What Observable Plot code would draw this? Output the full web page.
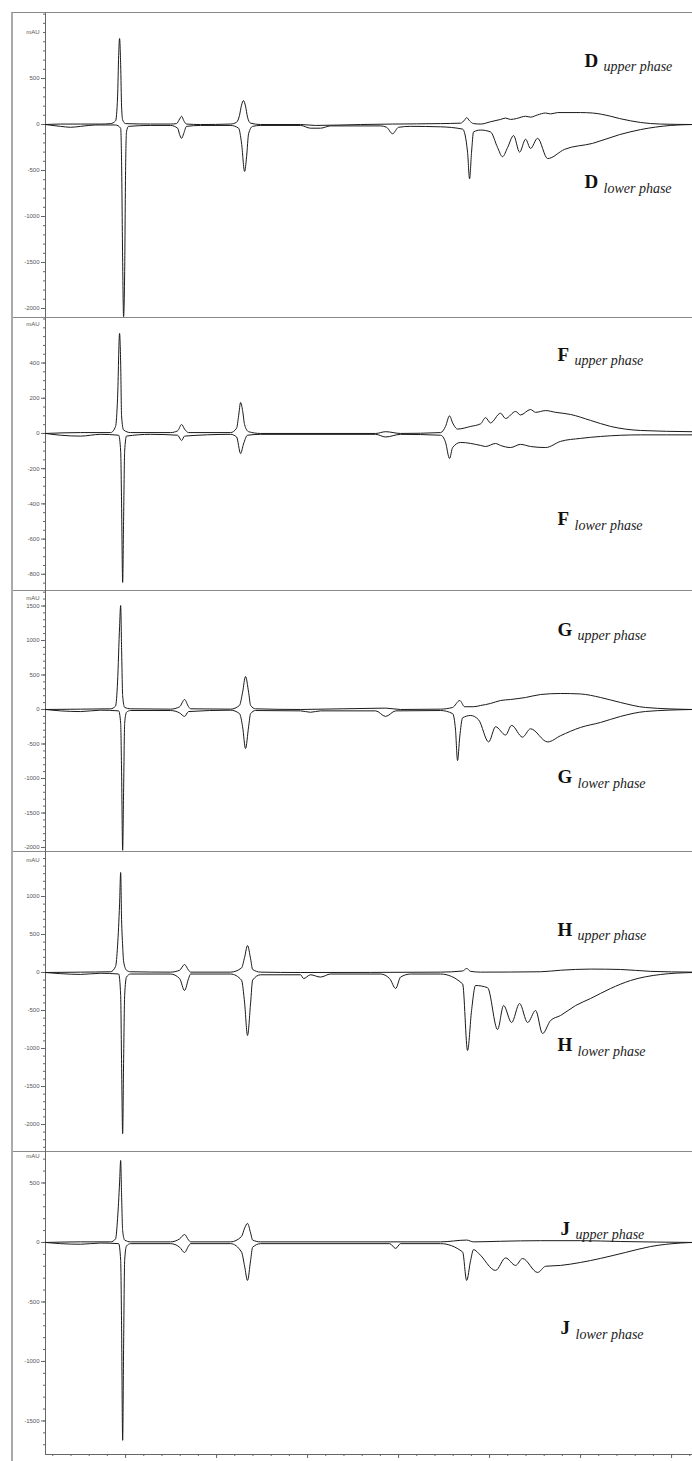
<!DOCTYPE html>
<html><head><meta charset="utf-8">
<script src="https://cdn.jsdelivr.net/npm/d3@7"></script>
<script src="https://cdn.jsdelivr.net/npm/@observablehq/plot@0.6"></script>
<style>
body{margin:0;background:#fff;}
#fig{position:absolute;left:11px;top:12px;width:679px;border-left:2px solid #aaa;border-top:1px solid #888;}
.panel{border-bottom:1px solid #888;}
.panel:last-child{border-bottom:none;}
.panel svg{display:block;overflow:visible;}
</style></head><body><div id="fig"></div>
<script>
// time (min), signal (mAU); lower phase drawn inverted (negative)
const D_upper = [[0.60,0],[1.43,5],[2.53,5],[3.63,5],[4.18,10],[4.45,40],[4.56,300],[4.62,750],[4.67,935],[4.73,650],[4.78,200],[4.84,50],[5.00,10],[6.37,5],[7.47,5],[7.80,10],[7.97,60],[8.08,90],[8.19,45],[8.35,5],[9.12,0],[10.77,5],[11.10,25],[11.26,100],[11.37,210],[11.48,260],[11.59,200],[11.70,80],[11.87,15],[12.42,0],[14.62,0],[15.44,-10],[17.91,0],[19.67,5],[22.31,10],[23.41,15],[23.63,50],[23.74,75],[23.90,40],[24.12,10],[24.51,5],[25.05,30],[25.60,55],[25.88,70],[26.15,55],[26.48,65],[26.98,90],[27.25,80],[27.64,105],[28.08,125],[28.35,115],[28.74,130],[30.00,130],[30.66,125],[31.65,90],[32.14,65],[32.75,40],[33.30,22],[34.40,5],[36.15,0]];
const D_lower = [[0.60,0],[1.43,-20],[1.98,-30],[2.53,-20],[3.35,-5],[4.45,-5],[4.73,-40],[4.78,-400],[4.84,-1500],[4.89,-2090],[4.95,-1600],[5.00,-500],[5.05,-80],[5.16,-20],[6.37,-10],[7.47,-10],[7.86,-40],[7.97,-110],[8.08,-150],[8.19,-100],[8.35,-20],[9.12,-10],[10.77,-10],[11.21,-40],[11.37,-200],[11.54,-510],[11.65,-350],[11.76,-100],[11.98,-20],[12.42,-10],[14.62,-10],[15.16,-40],[15.71,-40],[16.26,-15],[19.01,-15],[19.34,-30],[19.67,-100],[20.00,-30],[20.66,-20],[22.31,-25],[23.52,-50],[23.79,-300],[23.90,-590],[24.01,-300],[24.12,-80],[24.51,-60],[25.05,-80],[25.44,-250],[25.71,-350],[25.99,-250],[26.32,-120],[26.65,-300],[26.98,-160],[27.25,-260],[27.64,-150],[28.19,-370],[29.12,-270],[30.66,-205],[32.14,-110],[33.30,-55],[34.95,-10],[36.15,0]];

const F_upper = [[0.60,0],[2.53,5],[4.18,5],[4.45,40],[4.56,200],[4.67,568],[4.73,400],[4.78,100],[4.89,20],[5.27,5],[7.47,5],[7.86,15],[8.08,51],[8.24,25],[8.46,5],[10.77,5],[11.10,30],[11.21,100],[11.32,176],[11.43,130],[11.54,50],[11.76,10],[12.42,0],[18.74,0],[19.29,10],[20.11,0],[22.31,5],[22.58,40],[22.80,100],[22.97,60],[23.24,25],[23.96,40],[24.51,55],[24.78,90],[25.05,60],[25.60,115],[25.88,85],[26.43,125],[26.70,105],[27.25,136],[27.53,120],[28.08,130],[28.63,120],[29.45,108],[30.55,74],[31.65,40],[33.30,17],[36.15,10]];
const F_lower = [[0.60,0],[1.43,-10],[2.53,-15],[3.63,-5],[4.62,-10],[4.73,-100],[4.78,-400],[4.84,-846],[4.89,-500],[4.95,-100],[5.05,-15],[6.37,-5],[7.86,-10],[8.08,-40],[8.24,-15],[10.77,-5],[11.10,-20],[11.32,-114],[11.48,-60],[11.70,-10],[12.42,-5],[18.74,-5],[19.29,-20],[20.11,-5],[22.31,-10],[22.58,-50],[22.80,-142],[22.97,-80],[23.41,-51],[24.51,-68],[24.78,-74],[25.33,-57],[25.60,-68],[26.15,-80],[26.70,-62],[27.25,-74],[28.08,-80],[28.90,-45],[30.00,-28],[31.10,-17],[33.30,-8],[36.15,-8]];

const G_upper = [[0.60,0],[2.53,5],[4.18,10],[4.45,50],[4.56,400],[4.67,1200],[4.73,1507],[4.78,900],[4.84,200],[4.95,30],[5.27,10],[7.47,5],[7.97,40],[8.24,145],[8.46,40],[8.57,10],[10.77,5],[11.26,60],[11.43,250],[11.59,478],[11.76,250],[11.87,60],[12.14,10],[14.62,0],[19.29,20],[20.11,0],[22.31,5],[22.97,30],[23.36,130],[23.63,40],[24.12,40],[24.51,58],[25.05,87],[25.60,130],[26.15,145],[26.98,174],[27.80,217],[28.90,232],[30.00,225],[31.10,174],[32.20,101],[33.57,29],[36.15,0]];
const G_lower = [[0.60,0],[1.43,-20],[2.53,-30],[3.63,-10],[4.62,-20],[4.73,-200],[4.78,-900],[4.84,-2040],[4.89,-1200],[4.95,-200],[5.05,-40],[5.27,-15],[7.47,-15],[7.97,-50],[8.24,-100],[8.46,-30],[10.77,-10],[11.26,-60],[11.43,-250],[11.59,-565],[11.76,-250],[11.87,-60],[12.14,-15],[14.62,-20],[15.16,-40],[15.71,-20],[18.74,-20],[19.29,-100],[19.84,-20],[22.31,-15],[22.97,-60],[23.13,-300],[23.24,-740],[23.36,-400],[23.52,-120],[23.96,-87],[24.40,-150],[24.95,-470],[25.33,-250],[25.88,-370],[26.21,-230],[26.81,-400],[27.25,-280],[28.19,-470],[28.90,-380],[30.00,-260],[31.10,-188],[32.20,-100],[33.57,-29],[36.15,0]];

const H_upper = [[0.60,0],[2.53,5],[4.18,10],[4.45,80],[4.56,350],[4.67,900],[4.73,1316],[4.78,700],[4.84,350],[4.89,150],[5.05,30],[5.27,10],[7.47,5],[7.97,30],[8.24,105],[8.46,30],[8.57,5],[10.77,5],[11.37,60],[11.54,200],[11.70,355],[11.87,180],[11.98,40],[12.42,5],[14.62,0],[22.31,5],[23.52,20],[23.74,53],[23.96,15],[24.51,5],[27.80,10],[28.90,30],[30.55,45],[32.20,40],[33.85,15],[36.15,5]];
const H_lower = [[0.60,0],[1.43,-15],[2.53,-25],[3.63,-10],[4.62,-20],[4.73,-300],[4.78,-1200],[4.84,-2119],[4.89,-1200],[4.95,-300],[5.05,-60],[5.27,-20],[7.47,-20],[7.97,-80],[8.24,-237],[8.46,-80],[8.57,-20],[10.77,-20],[11.37,-100],[11.54,-400],[11.70,-829],[11.87,-400],[11.98,-100],[12.42,-30],[14.62,-30],[14.78,-80],[15.16,-30],[15.71,-60],[16.26,-20],[19.01,-20],[19.51,-80],[19.84,-210],[20.11,-60],[20.66,-20],[22.31,-20],[23.52,-150],[23.79,-1026],[24.01,-500],[24.23,-171],[24.89,-200],[25.44,-750],[25.77,-434],[26.21,-658],[26.65,-408],[27.09,-658],[27.53,-500],[27.91,-803],[28.35,-632],[28.90,-566],[29.73,-434],[30.55,-342],[31.65,-210],[32.75,-105],[34.40,-26],[36.15,0]];

const J_upper = [[0.60,0],[2.53,5],[4.18,5],[4.45,30],[4.56,200],[4.67,500],[4.73,689],[4.78,400],[4.84,100],[4.95,20],[5.27,5],[7.47,5],[7.97,30],[8.24,67],[8.46,20],[8.57,5],[10.77,5],[11.37,50],[11.54,120],[11.70,160],[11.87,80],[11.98,20],[12.42,5],[22.31,5],[23.74,20],[24.12,5],[25.60,10],[27.80,15],[30.00,15],[32.20,8],[36.15,0]];
const J_lower = [[0.60,0],[1.43,-10],[2.53,-15],[3.63,-5],[4.62,-10],[4.73,-150],[4.78,-700],[4.84,-1663],[4.89,-900],[4.95,-150],[5.05,-30],[5.27,-10],[7.47,-10],[7.97,-40],[8.24,-84],[8.46,-30],[8.57,-10],[10.77,-10],[11.37,-80],[11.54,-200],[11.70,-319],[11.87,-150],[11.98,-40],[12.42,-10],[19.51,-10],[19.84,-50],[20.11,-10],[22.31,-10],[23.52,-80],[23.74,-319],[23.96,-150],[24.12,-60],[24.40,-92],[25.33,-235],[25.88,-130],[26.43,-193],[26.81,-135],[27.64,-252],[28.08,-200],[28.90,-193],[30.00,-168],[31.10,-134],[32.47,-84],[33.85,-34],[35.49,-5],[36.15,0]];

// tick values
const D_ticks = [500, 0, -500, -1000, -1500, -2000];
const F_ticks = [400, 200, 0, -200, -400, -600, -800];
const G_ticks = [1500, 1000, 500, 0, -500, -1000, -1500, -2000];
const H_ticks = [1000, 500, 0, -500, -1000, -1500, -2000];
const J_ticks = [500, 0, -500, -1000, -1500];
const xMajor = [5, 10, 15, 20, 25, 30, 35];
const xMinor = d3.range(1, 37);
const phaseUpper = "upper phase";
const phaseLower = "lower phase";
const yUnit = "mAU";

const panels = [
  {letter:"D", upper:D_upper, lower:D_lower, ticks:D_ticks, minor:100, height:304, domain:[-2098,1207], mauDy:19, ldx:539, sub:19, udy:53, lody:174},
  {letter:"F", upper:F_upper, lower:F_lower, ticks:F_ticks, minor:50, height:272, domain:[-892,653], mauDy:6, ldx:512, sub:17, udy:42, lody:206},
  {letter:"G", upper:G_upper, lower:G_lower, ticks:G_ticks, minor:100, height:260, domain:[-2058,1710], mauDy:7, ldx:512, sub:20, udy:44, lody:191},
  {letter:"H", upper:H_upper, lower:H_lower, ticks:H_ticks, minor:100, height:299, domain:[-2355,1579], mauDy:8, ldx:512, sub:20, udy:83, lody:198},
  {letter:"J", upper:J_upper, lower:J_lower, ticks:J_ticks, minor:100, height:309, domain:[-1782,756], mauDy:4, ldx:515, sub:15, udy:82, lody:181, last:true}
];

const fig = document.getElementById("fig");
const axisColor = "#666";
for (const p of panels) {
  const minorTicks = d3.range(Math.ceil(p.domain[0]/p.minor)*p.minor, p.domain[1], p.minor);
  const marks = [
    Plot.axisY({ticks: minorTicks, tickSize: 2, tickFormat: () => "", stroke: axisColor, label: null}),
    Plot.axisY({ticks: p.ticks, tickSize: 4, tickPadding: 2, tickFormat: d => String(d), fontSize: 6, fill: "#555", stroke: axisColor, label: null}),
    Plot.frame({anchor: "left", stroke: axisColor}),
    Plot.text([yUnit], {frameAnchor: "top-left", dx: -6, dy: p.mauDy, textAnchor: "end", lineAnchor: "middle", fontSize: 6, fill: "#555"}),
    Plot.line(p.upper, {x: d => d[0], y: d => d[1], stroke: "#1a1a1a", strokeWidth: 1, curve: "monotone-x"}),
    Plot.line(p.lower, {x: d => d[0], y: d => d[1], stroke: "#1a1a1a", strokeWidth: 1, curve: "monotone-x"}),
    Plot.text([p.letter], {frameAnchor: "top-left", dx: p.ldx, dy: p.udy, textAnchor: "start", lineAnchor: "bottom", fontFamily: "Liberation Serif", fontWeight: "bold", fontSize: 19, fill: "#111"}),
    Plot.text([phaseUpper], {frameAnchor: "top-left", dx: p.ldx + p.sub, dy: p.udy + 4, textAnchor: "start", lineAnchor: "bottom", fontFamily: "Liberation Serif", fontStyle: "italic", fontSize: 14, fill: "#222"}),
    Plot.text([p.letter], {frameAnchor: "top-left", dx: p.ldx, dy: p.lody, textAnchor: "start", lineAnchor: "bottom", fontFamily: "Liberation Serif", fontWeight: "bold", fontSize: 19, fill: "#111"}),
    Plot.text([phaseLower], {frameAnchor: "top-left", dx: p.ldx + p.sub, dy: p.lody + 5, textAnchor: "start", lineAnchor: "bottom", fontFamily: "Liberation Serif", fontStyle: "italic", fontSize: 14, fill: "#222"})
  ];
  if (p.last) {
    marks.push(
      Plot.axisX({ticks: xMinor, tickSize: 2, tickFormat: () => "", stroke: axisColor, label: null}),
      Plot.axisX({ticks: xMajor, tickSize: 4, tickFormat: () => "", stroke: axisColor, label: null}),
      Plot.frame({anchor: "bottom", stroke: axisColor})
    );
  }
  const chart = Plot.plot({
    width: 679,
    height: p.height,
    marginLeft: 32,
    marginRight: 0,
    marginTop: 0,
    marginBottom: p.last ? 7 : 0,
    style: {background: "white", fontFamily: "Liberation Sans"},
    x: {domain: [0.6, 36.15], axis: p.last ? undefined : null},
    y: {domain: p.domain},
    marks
  });
  const div = document.createElement("div");
  div.className = "panel";
  div.appendChild(chart);
  fig.appendChild(div);
}
</script></body></html>
